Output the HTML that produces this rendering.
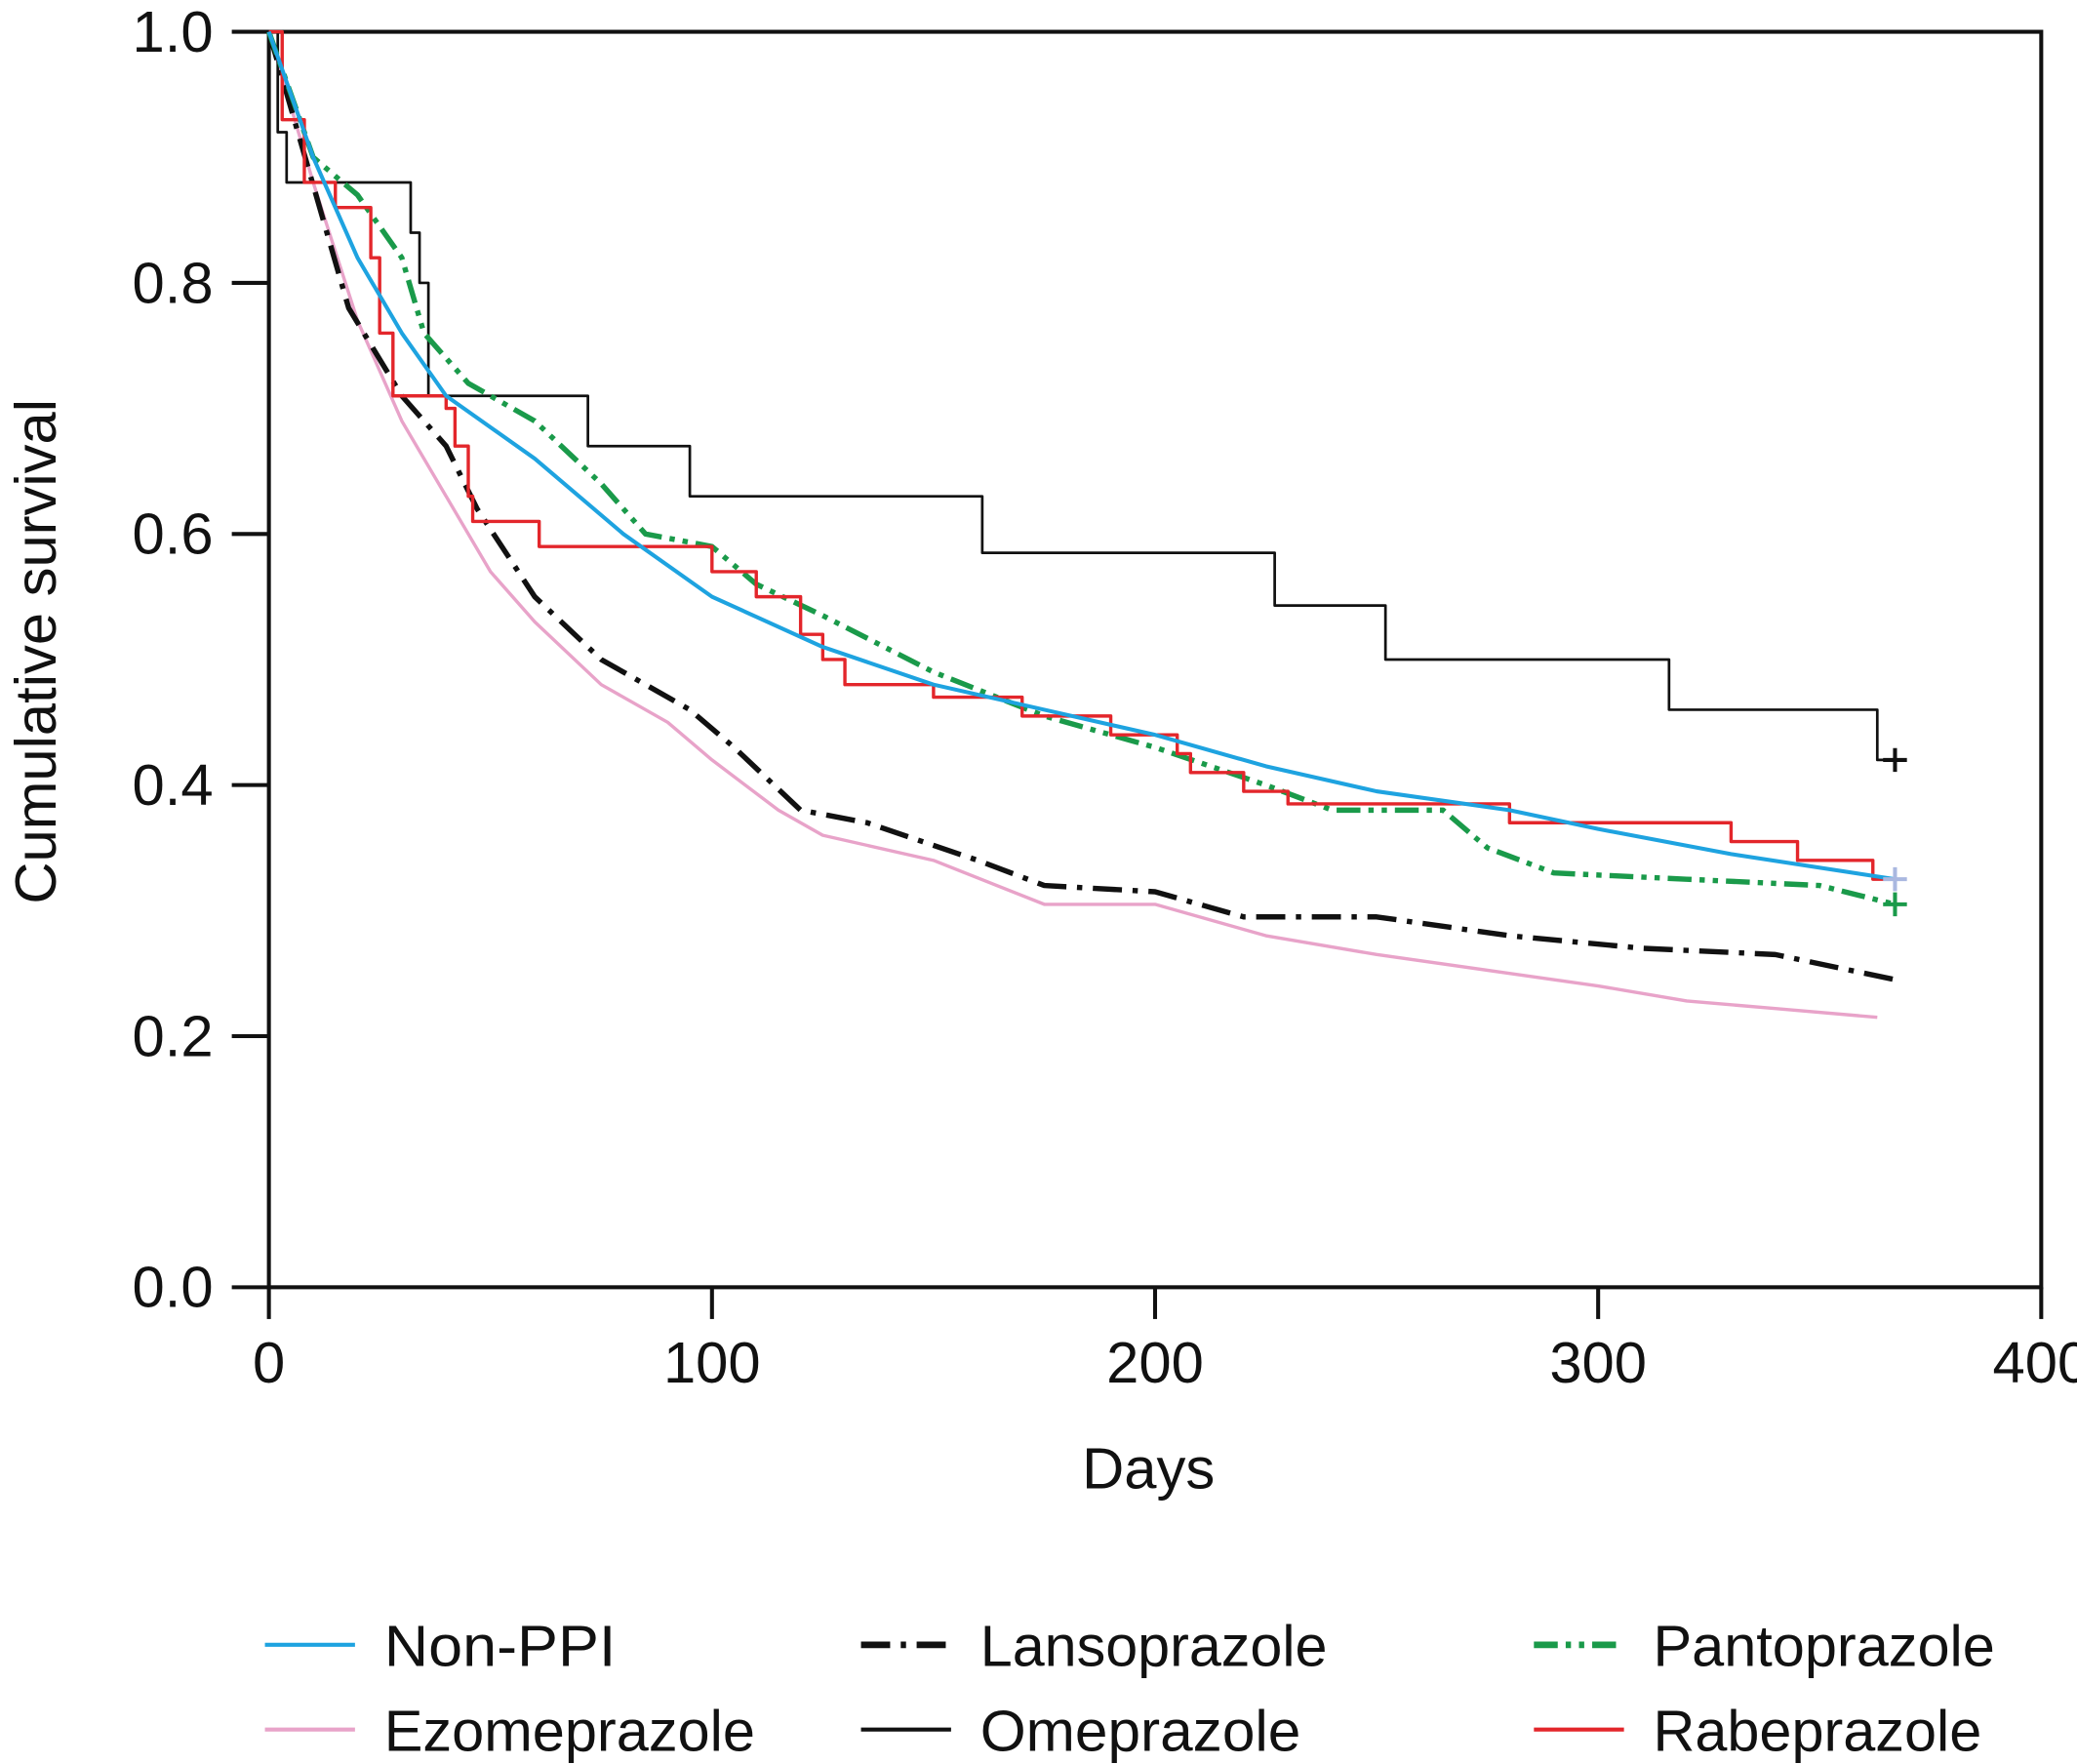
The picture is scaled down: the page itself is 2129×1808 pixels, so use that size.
<!DOCTYPE html>
<html><head><meta charset="utf-8"><style>
html,body{margin:0;padding:0;background:#fff;}
svg{display:block;}
text{font-family:"Liberation Sans",sans-serif;fill:#111;}
</style></head><body>
<svg id="chart" width="2129" height="1808" viewBox="0 0 1568 1332" preserveAspectRatio="none">
<g id="axes"></g>
<g id="series"></g>
<g id="legend"></g>
</svg>
<script>
const xTicks=[0,100,200,300,400];
const yTicks=[0.0,0.2,0.4,0.6,0.8,1.0];
const yTickLabels=["0.0","0.2","0.4","0.6","0.8","1.0"];
const nonPpiDays=[0,10,20,30,40,60,80,100,125,150,175,200,225,250,280,300,330,367];
const nonPpiSurv=[1.0,0.9,0.82,0.76,0.71,0.66,0.60,0.55,0.51,0.48,0.46,0.44,0.415,0.395,0.38,0.365,0.345,0.325];
const ezoDays=[0,10,20,30,40,50,60,75,90,100,115,125,150,175,200,225,250,280,300,320,340,363];
const ezoSurv=[1.0,0.88,0.77,0.69,0.63,0.57,0.53,0.48,0.45,0.42,0.38,0.36,0.34,0.305,0.305,0.28,0.265,0.25,0.24,0.228,0.222,0.215];
const lansoDays=[0,18,30,40,47,60,75,95,105,120,135,160,175,200,220,250,280,310,340,367];
const lansoSurv=[1.0,0.78,0.71,0.67,0.62,0.55,0.50,0.46,0.43,0.38,0.37,0.34,0.32,0.315,0.295,0.295,0.28,0.27,0.265,0.245];
const omeDays=[0,2,4,32,34,36,72,95,161,227,252,316,363,367];
const omeSurv=[1.0,0.92,0.88,0.84,0.80,0.71,0.67,0.63,0.585,0.543,0.50,0.46,0.42,0.42];
const pantoDays=[0,10,20,30,35,45,60,75,85,100,110,125,150,175,200,225,240,265,275,290,320,350,367];
const pantoSurv=[1.0,0.9,0.87,0.82,0.76,0.72,0.69,0.64,0.60,0.59,0.56,0.535,0.49,0.455,0.43,0.40,0.38,0.38,0.35,0.33,0.325,0.32,0.305];
const rabeDays=[0,3,8,15,23,25,28,40,42,45,46,61,95,100,110,120,125,130,150,170,190,205,208,220,230,280,330,345,362,367];
const rabeSurv=[1.0,0.93,0.88,0.86,0.82,0.76,0.71,0.70,0.67,0.63,0.61,0.59,0.59,0.57,0.55,0.52,0.50,0.48,0.47,0.455,0.44,0.425,0.41,0.395,0.385,0.37,0.355,0.34,0.325,0.325];

const NS="http://www.w3.org/2000/svg";
const X0=203,X1=1541,Y0=972,Y1=24;
function xs(d){return X0+(d-0)/400*(X1-X0);}
function ys(v){return Y0-v*(Y0-Y1);}
function mk(tag,attrs,parent){const e=document.createElementNS(NS,tag);for(const k in attrs)e.setAttribute(k,attrs[k]);parent.appendChild(e);return e;}
const axes=document.getElementById('axes'),ser=document.getElementById('series'),leg=document.getElementById('legend');

let frame=mk('rect',{x:X0,y:Y1,width:X1-X0,height:Y0-Y1,fill:'none',stroke:'#111','stroke-width':3},axes);


xTicks.forEach(t=>{
  let l=mk('line',{x1:xs(t),x2:xs(t),y1:Y0,y2:Y0+24,stroke:'#111','stroke-width':3},axes);
  
  
  let tx=mk('text',{x:xs(t),y:Y0+72,'font-size':44,'text-anchor':'middle'},axes);
  tx.textContent=String(t);
  
  
});
yTicks.forEach((t,i)=>{
  let l=mk('line',{x1:X0-28,x2:X0,y1:ys(t),y2:ys(t),stroke:'#111','stroke-width':3},axes);
  
  
  let tx=mk('text',{x:X0-42,y:ys(t)+15,'font-size':44,'text-anchor':'end'},axes);
  tx.textContent=yTickLabels[i];
  
  
});
let xt=mk('text',{x:867,y:1124,'font-size':44,'text-anchor':'middle'},axes);
xt.textContent='Days';


let yt=mk('text',{x:0,y:0,'font-size':44,'text-anchor':'middle',transform:'translate(42,492) rotate(-90)'},axes);
yt.textContent='Cumulative survival';



function pathD(days,vals,step){
  let d='M'+xs(days[0])+','+ys(vals[0]);
  for(let i=1;i<days.length;i++){
    if(step){d+=' L'+xs(days[i])+','+ys(vals[i-1])+' L'+xs(days[i])+','+ys(vals[i]);}
    else d+=' L'+xs(days[i])+','+ys(vals[i]);
  }
  return d;
}
const series=[
 {name:'ezomeprazole',days:ezoDays,vals:ezoSurv,color:'#e8a3c9',w:2.5,dash:'',step:false},
 {name:'lansoprazole',days:lansoDays,vals:lansoSurv,color:'#111',w:4,dash:'22 8 4 8',step:false},
 {name:'omeprazole',days:omeDays,vals:omeSurv,color:'#111',w:2,dash:'',step:true},
 {name:'pantoprazole',days:pantoDays,vals:pantoSurv,color:'#1a9a4a',w:4,dash:'18 6 4 6 4 6',step:false},
 {name:'rabeprazole',days:rabeDays,vals:rabeSurv,color:'#e3262b',w:2.5,dash:'',step:true},
 {name:'non-ppi',days:nonPpiDays,vals:nonPpiSurv,color:'#1ea3e0',w:3,dash:'',step:false}
];
series.forEach(s=>{
  let p=mk('path',{d:pathD(s.days,s.vals,s.step),fill:'none',stroke:s.color,'stroke-width':s.w,'stroke-dasharray':s.dash,'stroke-linejoin':'round'},ser);
  
  
});
[[omeDays,omeSurv,'#111'],[pantoDays,pantoSurv,'#1a9a4a'],[nonPpiDays,nonPpiSurv,'#aab8e0']].forEach(a=>{
  const d=a[0][a[0].length-1],v=a[1][a[1].length-1];
  let c=mk('path',{d:'M'+(xs(d)-9)+','+ys(v)+' h18 M'+xs(d)+','+(ys(v)-9)+' v18',stroke:a[2],'stroke-width':3},ser);
  
  
});

const legItems=[
 ['Non-PPI','#1ea3e0','',3,200,1242,175],['Lansoprazole','#111','22 8 4 8',5,650,1242,262],['Pantoprazole','#1a9a4a','18 6 4 6 4 6',5,1158,1242,258],
 ['Ezomeprazole','#e8a3c9','',3,200,1306,280],['Omeprazole','#111','',3,650,1306,242],['Rabeprazole','#e3262b','',3,1158,1306,248]
];
legItems.forEach(it=>{
  let g=mk('g',{},leg);
  
  
  mk('line',{x1:it[4],x2:it[4]+68,y1:it[5],y2:it[5],stroke:it[1],'stroke-width':it[3],'stroke-dasharray':it[2]},g);
  let t=mk('text',{x:it[4]+90,y:it[5]+16,'font-size':44,textLength:it[6],lengthAdjust:'spacingAndGlyphs'},g);
  t.textContent=it[0];
});
</script>
</body></html>
